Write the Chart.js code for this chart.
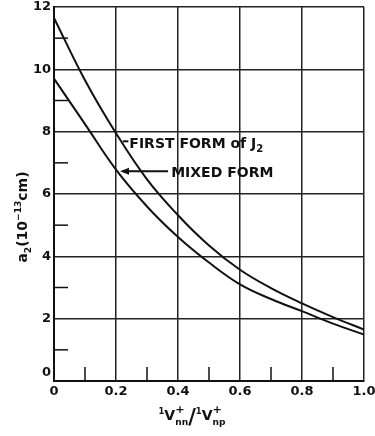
<!DOCTYPE html>
<html>
<head>
<meta charset="utf-8">
<script src="https://cdn.jsdelivr.net/npm/chart.js@4.4.1/dist/chart.umd.min.js"></script>
<style>
  html, body { margin: 0; padding: 0; background: #fff; }
  #wrap { position: relative; width: 375px; height: 436px; }
</style>
</head>
<body>
<div id="wrap"><canvas id="chart"></canvas></div>
<script>
// values
const xValues = [0, 0.1, 0.2, 0.3, 0.4, 0.5, 0.6, 0.7, 0.8, 0.9, 1.0]
const firstForm = [11.65, 9.65, 7.95, 6.47, 5.32, 4.35, 3.57, 2.98, 2.49, 2.05, 1.65]
const mixedForm = [9.7, 8.24, 6.78, 5.6, 4.62, 3.8, 3.1, 2.63, 2.24, 1.84, 1.49]
const xTicks = [0, 0.2, 0.4, 0.6, 0.8, 1.0]
const xTickLabels = ['0', '0.2', '0.4', '0.6', '0.8', '1.0']
const xMinor = [0.1, 0.3, 0.5, 0.7, 0.9]
const yTicks = [0, 2, 4, 6, 8, 10, 12]
const yTickLabels = ['0', '2', '4', '6', '8', '10', '12']
const yMinor = [1, 3, 5, 7, 9, 11]

const INK = '#111'
const FONT = '"DejaVu Sans", sans-serif'

function toPoints(ys) {
    return xValues.map((x, i) => ({ x: x, y: ys[i] }))
}

// draws text made of runs (sub/superscripts); stack = don't advance after this run
function drawRich(ctx, runs, x, y, size, align) {
    let w = 0
    runs.forEach(r => {
        ctx.font = `bold ${size * (r.s || 1)}px ${FONT}`
        r.w = ctx.measureText(r.t).width
        if (!r.stack) w += r.w
    })
    let cx = align === 'center' ? x - w / 2 : x
    runs.forEach(r => {
        ctx.font = `bold ${size * (r.s || 1)}px ${FONT}`
        ctx.fillText(r.t, cx, y + (r.dy || 0))
        if (!r.stack) cx += r.w
    })
}

const extras = {
    id: 'extras',
    afterDraw(chart) {
        const ctx = chart.ctx
        const xs = chart.scales.x
        const ys = chart.scales.y
        const area = chart.chartArea
        ctx.save()
        ctx.strokeStyle = INK
        ctx.fillStyle = INK
        ctx.lineWidth = 1.5

        // minor ticks inside the frame
        yMinor.forEach(v => {
            const py = ys.getPixelForValue(v)
            ctx.beginPath()
            ctx.moveTo(area.left, py)
            ctx.lineTo(area.left + 14, py)
            ctx.stroke()
        })
        xMinor.forEach(v => {
            const px = xs.getPixelForValue(v)
            ctx.beginPath()
            ctx.moveTo(px, area.bottom)
            ctx.lineTo(px, area.bottom - 14)
            ctx.stroke()
        })

        // y "0" sits a bit above the axis in the original
        ctx.font = `bold 13px ${FONT}`
        ctx.textAlign = 'right'
        ctx.textBaseline = 'middle'
        ctx.fillText(yTickLabels[0], area.left - 3, ys.getPixelForValue(0) - 8)

        ctx.textAlign = 'left'
        ctx.textBaseline = 'alphabetic'

        // FIRST FORM label with short dash
        const fy = ys.getPixelForValue(7.69)
        ctx.lineWidth = 2
        ctx.beginPath()
        ctx.moveTo(xs.getPixelForValue(0.222), fy)
        ctx.lineTo(xs.getPixelForValue(0.24), fy)
        ctx.stroke()
        drawRich(ctx, [
            { t: 'FIRST FORM of J' },
            { t: '2', s: 0.72, dy: 4 }
        ], xs.getPixelForValue(0.243), fy + 7, 14)

        // MIXED FORM label with arrow
        const my = ys.getPixelForValue(6.73)
        const tip = xs.getPixelForValue(0.213)
        ctx.beginPath()
        ctx.moveTo(tip + 6, my)
        ctx.lineTo(xs.getPixelForValue(0.368), my)
        ctx.stroke()
        ctx.beginPath()
        ctx.moveTo(tip, my)
        ctx.lineTo(tip + 9, my - 3.5)
        ctx.lineTo(tip + 9, my + 3.5)
        ctx.closePath()
        ctx.fill()
        drawRich(ctx, [{ t: 'MIXED FORM' }], xs.getPixelForValue(0.378), my + 6, 14)

        // x axis title
        drawRich(ctx, [
            { t: '1', s: 0.6, dy: -6 },
            { t: 'V' },
            { t: '+', s: 0.8, dy: -7, stack: true },
            { t: 'nn', s: 0.65, dy: 5 },
            { t: '/', s: 1.5, dy: 4 },
            { t: '1', s: 0.6, dy: -6 },
            { t: 'V' },
            { t: '+', s: 0.8, dy: -7, stack: true },
            { t: 'np', s: 0.65, dy: 5 }
        ], 192, 420, 14, 'center')

        // y axis title, rotated
        ctx.translate(27, 217)
        ctx.rotate(-Math.PI / 2)
        drawRich(ctx, [
            { t: 'a' },
            { t: '2', s: 0.65, dy: 4 },
            { t: '(10' },
            { t: '\u221213', s: 0.65, dy: -6 },
            { t: 'cm)' }
        ], 0, 0, 14, 'center')
        ctx.restore()
    }
}

Chart.defaults.font.family = FONT
Chart.defaults.color = INK

new Chart(document.getElementById('chart'), {
    type: 'line',
    data: {
        datasets: [{
            label: 'FIRST FORM of J2',
            data: toPoints(firstForm),
            borderColor: INK,
            borderWidth: 2,
            pointRadius: 0,
            tension: 0.4,
            fill: false
        }, {
            label: 'MIXED FORM',
            data: toPoints(mixedForm),
            borderColor: INK,
            borderWidth: 2,
            pointRadius: 0,
            tension: 0.4,
            fill: false
        }]
    },
    options: {
        responsive: true,
        maintainAspectRatio: false,
        animation: false,
        layout: { padding: { top: 7, right: 11, left: 0, bottom: 0 } },
        plugins: {
            legend: { display: false },
            tooltip: { enabled: false }
        },
        scales: {
            x: {
                type: 'linear',
                min: 0,
                max: 1,
                afterBuildTicks: s => { s.ticks = xTicks.map(v => ({ value: v })) },
                afterFit: s => {
                    s.height = 55
                    s.paddingLeft = 0
                    s.paddingRight = 0
                },
                ticks: {
                    callback: (v, i) => xTickLabels[i],
                    font: { size: 13, weight: 'bold' },
                    color: INK,
                    padding: 3,
                    maxRotation: 0
                },
                grid: { color: '#222', lineWidth: 1.5, drawTicks: false },
                border: { color: INK, width: 2 }
            },
            y: {
                min: 0,
                max: 12,
                afterBuildTicks: s => { s.ticks = yTicks.map(v => ({ value: v })) },
                afterFit: s => {
                    s.width = 54
                    s.paddingTop = 0
                    s.paddingBottom = 0
                },
                ticks: {
                    callback: (v, i) => i === 0 ? '' : yTickLabels[i],
                    font: { size: 13, weight: 'bold' },
                    color: INK,
                    padding: 3
                },
                grid: { color: '#222', lineWidth: 1.5, drawTicks: false },
                border: { color: INK, width: 2 }
            }
        }
    },
    plugins: [extras]
})
</script>
</body>
</html>
